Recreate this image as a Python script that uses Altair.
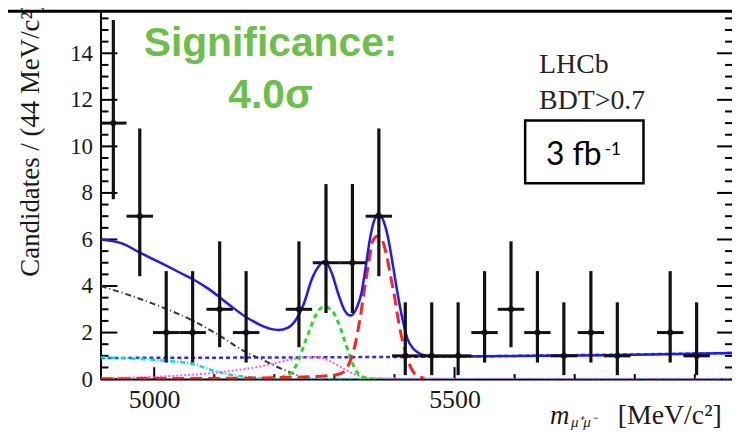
import altair as alt
import pandas as pd

# ---------------- data ----------------
bin_centers = [4932, 4976, 5020, 5064, 5109, 5153, 5241, 5286, 5330, 5374, 5418,
               5462, 5506, 5550, 5594, 5638, 5682, 5727, 5771, 5859, 5903]
counts = [11, 7, 2, 2, 3, 2, 3, 5, 5, 7, 1, 1, 1, 2, 3, 2, 1, 2, 1, 2, 1]
err_low = [7.73, 4.42, 0.71, 0.71, 1.37, 0.71, 1.37, 2.84, 2.84, 4.42, 0.17,
           0.17, 0.17, 0.71, 1.37, 0.71, 0.17, 0.71, 0.17, 0.71, 0.17]
err_high = [15.43, 10.77, 4.64, 4.64, 5.92, 4.64, 5.92, 8.38, 8.38, 10.77, 3.30,
            3.30, 3.30, 4.64, 5.92, 4.64, 3.30, 4.64, 3.30, 4.64, 3.30]
bin_half_width = 22  # 44 MeV bins

total_m = [4911, 4945, 4978, 5011, 5044, 5066, 5088, 5110, 5132, 5154, 5175, 5192,
           5207, 5222, 5236, 5250, 5262, 5274, 5284, 5295, 5306, 5317, 5327, 5337,
           5345, 5352, 5359, 5366, 5373, 5381, 5389, 5398, 5406, 5414, 5422, 5430,
           5439, 5450, 5461, 5488, 5600, 5750, 5900, 5962]
total_v = [6.0, 5.84, 5.41, 4.99, 4.56, 4.27, 3.92, 3.5, 3.05, 2.65, 2.35, 2.17,
           2.11, 2.2, 2.55, 3.3, 4.27, 4.85, 5.06, 4.6, 3.7, 2.95, 2.73, 3.05,
           3.7, 4.8, 6.0, 6.8, 7.12, 6.85, 6.12, 4.8, 3.56, 2.5, 1.71, 1.35,
           1.14, 1.02, 0.98, 0.97, 0.99, 1.03, 1.09, 1.12]

comb_m = [4911, 5300, 5500, 5700, 5962]
comb_v = [0.91, 0.94, 0.97, 1.03, 1.12]

bd_m = [5195, 5215, 5229, 5240, 5251, 5260, 5268, 5276, 5284, 5292, 5301, 5310,
        5318, 5327, 5334, 5345, 5360, 5380]
bd_v = [0.0, 0.1, 0.3, 0.8, 1.57, 2.2, 2.7, 3.02, 3.13, 3.02, 2.75, 2.2,
        1.57, 0.9, 0.45, 0.12, 0.02, 0.0]

bs_m = [4911, 5100, 5200, 5257, 5290, 5305, 5315, 5325, 5334, 5342, 5350, 5357,
        5364, 5373, 5380, 5386, 5393, 5400, 5408, 5417, 5424, 5430, 5440, 5450]
bs_v = [0.02, 0.03, 0.06, 0.1, 0.15, 0.2, 0.3, 0.7, 1.42, 2.5, 3.85, 5.0,
        5.95, 6.15, 5.95, 5.41, 4.5, 3.56, 2.3, 1.28, 0.7, 0.36, 0.12, 0.03]

semi_m = [4911, 4956, 5011, 5066, 5110, 5149, 5188, 5207, 5221, 5235, 5248, 5265]
semi_v = [4.0, 3.63, 3.11, 2.49, 1.85, 1.21, 0.74, 0.5, 0.35, 0.2, 0.08, 0.0]

cyan_m = [4911, 5021, 5066, 5099, 5132, 5165, 5199, 5962]
cyan_v = [0.93, 0.78, 0.64, 0.36, 0.17, 0.07, 0.0, 0.0]

mag_m = [4911, 5040, 5121, 5177, 5220, 5248, 5270, 5290, 5305, 5320, 5335, 5350,
         5370, 5500, 5962]
mag_v = [0.04, 0.15, 0.33, 0.55, 0.8, 0.93, 0.95, 0.8, 0.6, 0.38, 0.2, 0.08,
         0.03, 0.01, 0.0]

y_major = [0, 2, 4, 6, 8, 10, 12, 14]
y_minor = [0.5, 1, 1.5, 2.5, 3, 3.5, 4.5, 5, 5.5, 6.5, 7, 7.5, 8.5, 9, 9.5,
           10.5, 11, 11.5, 12.5, 13, 13.5, 14.5, 15, 15.5]
x_major = [5000, 5500]
x_minor = [5100, 5200, 5300, 5400, 5600, 5700, 5800, 5900]

# ---------------- layout ----------------
W, H = 635, 370
SERIF = "Liberation Serif"
X_SCALE = alt.Scale(domain=[4910.6, 5961.9], nice=False, zero=False)
Y_SCALE = alt.Scale(domain=[0, 15.81], nice=False, zero=False)
X_AXIS = alt.Axis(values=x_major, title=None, ticks=False, tickSize=0, grid=False,
                  labelFont=SERIF, labelFontSize=26, labelColor="#1a1a1a",
                  labelPadding=8, domainColor="black", domainWidth=2, format="d")
Y_AXIS = alt.Axis(values=y_major, title=None, ticks=False, tickSize=0, grid=False,
                  labelFont=SERIF, labelFontSize=23, labelColor="#1a1a1a",
                  labelPadding=8, domainColor="black", domainWidth=2)


def xenc(field="m"):
    return alt.X(f"{field}:Q", scale=X_SCALE, axis=X_AXIS)


def yenc(field="v"):
    return alt.Y(f"{field}:Q", scale=Y_SCALE, axis=Y_AXIS)


def curve(ms, vs, color, width, dash=None):
    df = pd.DataFrame({"m": ms, "v": vs})
    kw = dict(color=color, strokeWidth=width, interpolate="monotone", clip=True)
    if dash:
        kw["strokeDash"] = dash
    return alt.Chart(df).mark_line(**kw).encode(x=xenc(), y=yenc())


one = pd.DataFrame({"a": [0]})


def txt(s, px, py, **kw):
    return alt.Chart(one).mark_text(text=s, **kw).encode(
        x=alt.value(px - 101), y=alt.value(py - 10))


# ticks drawn inside the frame (ROOT style)
ym = pd.DataFrame({"v": y_major})
yn = pd.DataFrame({"v": y_minor})
xm = pd.DataFrame({"m": x_major})
xn = pd.DataFrame({"m": x_minor})
tick_kw = dict(color="black", strokeWidth=2)
ticks = [
    alt.Chart(ym).mark_rule(**tick_kw).encode(y=yenc(), x=alt.value(0), x2=alt.value(17)),
    alt.Chart(yn).mark_rule(**tick_kw).encode(y=yenc(), x=alt.value(0), x2=alt.value(8)),
    alt.Chart(ym).mark_rule(**tick_kw).encode(y=yenc(), x=alt.value(W), x2=alt.value(W - 15)),
    alt.Chart(yn).mark_rule(**tick_kw).encode(y=yenc(), x=alt.value(W), x2=alt.value(W - 7)),
    alt.Chart(xm).mark_rule(**tick_kw).encode(x=xenc(), y=alt.value(H), y2=alt.value(H - 12)),
    alt.Chart(xn).mark_rule(**tick_kw).encode(x=xenc(), y=alt.value(H), y2=alt.value(H - 5)),
]

curves = [
    curve(comb_m, comb_v, "#2a2aff", 2.5, [4, 3]),
    curve(cyan_m, cyan_v, "#00dede", 2.5, [5, 2, 1, 2]),
    curve(mag_m, mag_v, "#ff55ff", 2, [2, 2]),
    curve(semi_m, semi_v, "#333333", 2, [6, 3, 1, 3]),
    curve(bd_m, bd_v, "#22dd22", 3, [5, 4]),
    curve(bs_m, bs_v, "#ff2020", 3, [12, 6]),
    curve(total_m, total_v, "#1a1aff", 2.5),
]

pts = pd.DataFrame({"m": bin_centers, "v": counts, "lo": err_low, "hi": err_high})
pts["m1"] = pts["m"] - bin_half_width
pts["m2"] = pts["m"] + bin_half_width
data_layers = [
    alt.Chart(pts).mark_rule(color="#111111", strokeWidth=3.2).encode(
        x=xenc(), y=yenc("lo"), y2="hi:Q"),
    alt.Chart(pts).mark_rule(color="#111111", strokeWidth=3).encode(
        x=xenc("m1"), x2="m2:Q", y=yenc()),
    alt.Chart(pts).mark_point(filled=True, color="#111111", size=36, opacity=1).encode(
        x=xenc(), y=yenc()),
]

annot = [
    txt("Significance:", 272, 55, font="Liberation Sans", fontSize=41,
        fontWeight="bold", color="#6cc04a", align="center", baseline="alphabetic"),
    txt("4.0σ", 272, 107, font="Liberation Sans", fontSize=41,
        fontWeight="bold", color="#6cc04a", align="center", baseline="alphabetic"),
    txt("LHCb", 542, 72, font=SERIF, fontSize=28, color="#262626",
        align="left", baseline="alphabetic"),
    txt("BDT>0.7", 542, 108, font=SERIF, fontSize=28, color="#262626",
        align="left", baseline="alphabetic"),
    alt.Chart(one).mark_rect(fill="white", stroke="black", strokeWidth=2.5).encode(
        x=alt.value(528 - 101), x2=alt.value(647 - 101),
        y=alt.value(120 - 10), y2=alt.value(183 - 10)),
    txt("3 fb", 549, 165, font="Lato", fontSize=32, color="black",
        align="left", baseline="alphabetic"),
    txt("-1", 608, 155, font="Lato", fontSize=17, color="black",
        align="left", baseline="alphabetic"),
    txt("Candidates / (44 MeV/c²)", 39, 277, font=SERIF, fontSize=27,
        color="#1a1a1a", angle=270, align="left", baseline="alphabetic"),
    txt("m", 553, 425, font=SERIF, fontSize=27, fontStyle="italic",
        color="#1a1a1a", align="left", baseline="alphabetic"),
    txt("μ⁺μ⁻", 574, 428, font=SERIF, fontSize=15, fontStyle="italic",
        color="#1a1a1a", align="left", baseline="alphabetic"),
    txt("[MeV/c²]", 621, 425, font=SERIF, fontSize=28,
        color="#1a1a1a", align="left", baseline="alphabetic"),
    alt.Chart(one).mark_rule(color="black", strokeWidth=3).encode(
        x=alt.value(-101), x2=alt.value(W + 10), y=alt.value(0)),
]

chart = alt.layer(*ticks, *curves, *data_layers, *annot).properties(
    width=W, height=H,
    padding={"left": 93, "top": 2, "right": 0, "bottom": 50},
    autosize=alt.AutoSizeParams(type="none"),
).configure_view(stroke="black", strokeWidth=2).configure(background="white")

chart.save("out.html", embed_options={"renderer": "svg", "actions": False})
